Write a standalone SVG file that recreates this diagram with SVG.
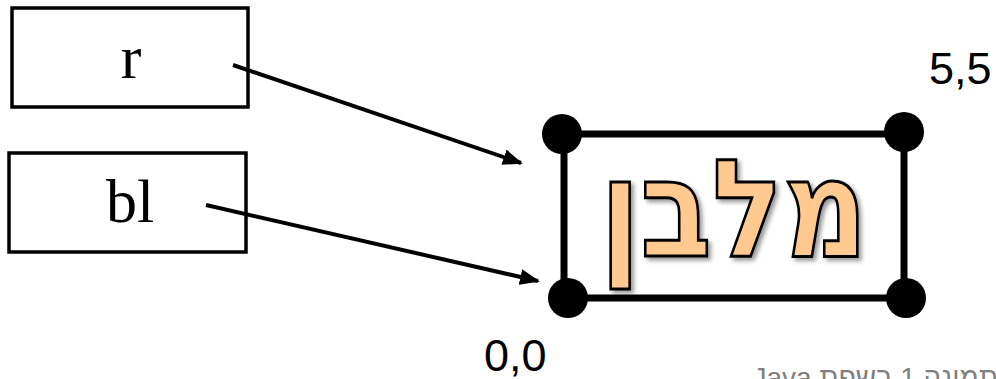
<svg xmlns="http://www.w3.org/2000/svg" width="996" height="379" viewBox="0 0 996 379">
<style>
.box{fill:#fff;stroke:#000;stroke-width:3.5}
.lbl{font-family:"Liberation Serif",serif;font-size:62px;fill:#000;text-anchor:middle}
.coord{font-family:"Liberation Sans",Arial,sans-serif;font-size:45px;fill:#000}
.conn{stroke:#000;stroke-width:4;fill:none}
.dot{fill:#000}
</style>
<defs>
<marker id="ah" markerWidth="5" markerHeight="4" refX="4.5" refY="2" orient="auto" markerUnits="strokeWidth">
<path d="M0,0 L5,2 L0,4 z" fill="#000"/>
</marker>
<filter id="sh" x="-10%" y="-10%" width="130%" height="130%">
<feDropShadow dx="3" dy="3" stdDeviation="2" flood-color="#000" flood-opacity="0.4"/>
</filter>
</defs>
<g id="node-r">
<rect class="box" x="12" y="8" width="236" height="99"/>
<text class="lbl" x="131" y="78">r</text>
</g>
<g id="node-bl">
<rect class="box" x="9" y="153" width="237" height="99"/>
<text class="lbl" x="130" y="222">bl</text>
</g>
<g id="node-rect">
<rect x="564" y="134" width="340" height="164" fill="none" stroke="#000" stroke-width="7"/>
<circle class="dot" cx="562" cy="134" r="20"/>
<circle class="dot" cx="904" cy="132" r="20"/>
<circle class="dot" cx="568" cy="298" r="20"/>
<circle class="dot" cx="906" cy="298" r="20"/>
<text x="734" y="256" font-family="'DejaVu Sans','Liberation Sans',sans-serif" font-weight="bold" font-size="136" fill="#FFC98F" stroke="#000" stroke-width="3" text-anchor="middle" direction="rtl" textLength="268" lengthAdjust="spacingAndGlyphs" filter="url(#sh)">מלבן</text>
</g>
<g id="label-55"><text class="coord" x="929" y="84">5,5</text></g>
<g id="label-00"><text class="coord" x="484" y="371">0,0</text></g>
<g id="caption"><text x="998" y="387" font-family="'Liberation Sans',Arial,sans-serif" font-size="28" fill="#808080" text-anchor="start" direction="rtl">תמונה 1 בשפת Java</text></g>
<g id="connectors">
<line class="conn" x1="233" y1="65" x2="521" y2="163" marker-end="url(#ah)"/>
<line class="conn" x1="206" y1="205" x2="538" y2="281" marker-end="url(#ah)"/>
</g>
</svg>
